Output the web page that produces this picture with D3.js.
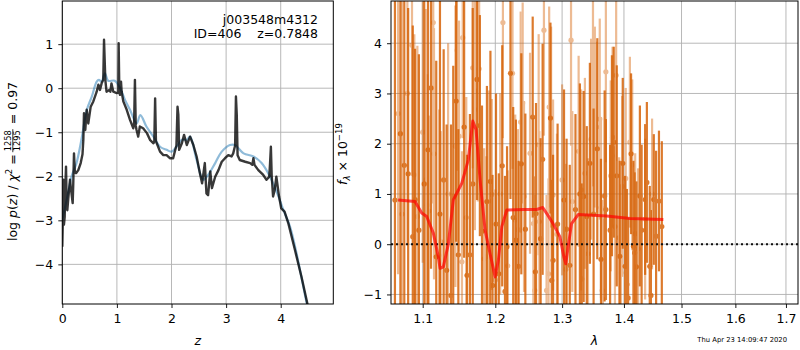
<!DOCTYPE html>
<html>
<head>
<meta charset="utf-8">
<script src="https://cdn.jsdelivr.net/npm/d3@7"></script>
<style>
  body { margin: 0; background: #fff; }
  svg { display: block; font-family: "DejaVu Sans", sans-serif; }
</style>
</head>
<body>
<div id="chart"></div>
<script>
// log p(z) curve, [z, log p]
const pzCurve = [[0.0,-3.6],[0.01,-3.0],[0.02,-2.08],[0.03,-3.1],[0.044,-2.92],[0.055,-2.3],[0.068,-1.78],[0.08,-2.6],[0.092,-2.77],[0.11,-2.5],[0.141,-2.08],[0.16,-2.3],[0.19,-2.61],[0.2,-2.2],[0.214,-1.48],[0.23,-1.9],[0.251,-1.93],[0.293,-1.86],[0.337,-1.70],[0.37,-1.5],[0.385,-1.18],[0.397,-0.57],[0.41,-0.8],[0.421,-0.95],[0.447,-0.49],[0.476,-0.80],[0.52,-0.42],[0.568,-0.30],[0.63,-0.08],[0.66,0.08],[0.69,-0.04],[0.72,0.11],[0.75,0.19],[0.764,1.10],[0.788,0.19],[0.81,-0.08],[0.86,-0.04],[0.88,-0.08],[0.90,0.11],[0.934,-0.08],[0.996,-0.11],[1.025,-0.1],[1.032,1.02],[1.045,-0.1],[1.057,-0.15],[1.075,0.15],[1.087,-0.08],[1.117,-0.30],[1.18,-0.49],[1.24,-0.72],[1.30,-0.91],[1.315,-0.8],[1.33,0.19],[1.345,-0.85],[1.36,-0.95],[1.39,-1.10],[1.42,-0.87],[1.48,-0.91],[1.55,-1.02],[1.61,-1.18],[1.67,-1.25],[1.685,-1.2],[1.70,-0.23],[1.715,-1.2],[1.73,-1.25],[1.79,-1.44],[1.85,-1.52],[1.91,-1.52],[1.97,-1.59],[2.03,-1.59],[2.06,-1.44],[2.09,-1.3],[2.11,-0.42],[2.125,-0.6],[2.14,-1.40],[2.19,-1.25],[2.23,-1.06],[2.28,-1.29],[2.34,-1.10],[2.40,-1.29],[2.46,-1.55],[2.52,-1.93],[2.56,-2.16],[2.61,-1.70],[2.64,-2.39],[2.67,-2.43],[2.71,-1.89],[2.74,-2.27],[2.80,-2.01],[2.86,-1.86],[2.92,-1.67],[2.98,-1.59],[3.04,-1.52],[3.10,-1.55],[3.13,-1.48],[3.165,-1.3],[3.18,-0.19],[3.195,-0.6],[3.21,-1.52],[3.25,-1.63],[3.35,-1.67],[3.44,-1.70],[3.48,-1.74],[3.50,-1.59],[3.52,-1.74],[3.59,-1.86],[3.68,-1.97],[3.74,-2.08],[3.79,-2.01],[3.805,-1.7],[3.82,-1.33],[3.835,-2.0],[3.86,-2.46],[3.89,-2.31],[3.92,-2.01],[3.97,-2.46],[4.01,-2.73],[4.07,-2.80],[4.14,-3.07],[4.26,-3.67],[4.38,-4.28],[4.50,-4.96]];

// smooth template-fit p(z), [z, log p]
const pzTemplate = [[0,-2.99],[0.08,-2.54],[0.17,-2.0],[0.26,-1.70],[0.35,-1.17],[0.45,-0.49],[0.54,-0.19],[0.63,0.15],[0.67,0.19],[0.72,0.15],[0.78,0.34],[0.84,0.17],[0.96,0.17],[1.06,0.0],[1.15,-0.27],[1.24,-0.49],[1.36,-0.80],[1.43,-0.61],[1.54,-0.87],[1.67,-1.10],[1.79,-1.33],[1.91,-1.40],[2.0,-1.44],[2.09,-1.33],[2.19,-1.17],[2.28,-1.17],[2.34,-1.10],[2.46,-1.63],[2.58,-2.08],[2.67,-1.97],[2.80,-1.70],[2.92,-1.44],[3.07,-1.29],[3.16,-1.29],[3.32,-1.48],[3.50,-1.55],[3.65,-1.70],[3.80,-2.0],[3.96,-2.46],[4.05,-2.77],[4.17,-3.14],[4.29,-3.75],[4.47,-4.85],[4.5,-5.0]];

// spectrum, first orientation (dark), [lambda, flux, err]
const specA = [[1.064,0.88,4.6],[1.071,2.20,4.0],[1.076,1.57,3.6],[1.081,1.40,3.3],[1.087,0.15,4.2],[1.090,0.89,3.0],[1.095,0.28,3.5],[1.102,1.20,4.2],[1.107,1.88,3.1],[1.111,3.11,3.6],[1.118,-0.25,3.9],[1.123,0.60,4.5],[1.128,1.28,2.6],[1.132,-0.52,2.9],[1.138,-1.02,3.4],[1.141,0.95,2.6],[1.145,2.85,2.8],[1.148,-0.21,2.5],[1.156,2.33,2.6],[1.160,-0.62,2.4],[1.164,-0.21,2.8],[1.168,1.20,3.5],[1.174,3.28,2.4],[1.178,2.36,2.2],[1.181,0.26,2.5],[1.188,0.85,2.3],[1.193,1.25,2.6],[1.196,-0.82,2.2],[1.201,0.40,2.6],[1.205,-0.59,2.0],[1.210,1.56,2.4],[1.214,-0.94,2.3],[1.217,-0.05,2.0],[1.222,3.40,2.5],[1.226,0.53,2.2],[1.230,0.08,2.4],[1.234,-0.44,2.1],[1.238,1.60,2.2],[1.244,0.30,2.3],[1.255,2.53,2.0],[1.259,-0.55,1.9],[1.260,0.61,2.2],[1.267,0.11,2.0],[1.270,1.69,2.3],[1.282,2.51,1.9],[1.284,-0.72,2.0],[1.286,-0.32,2.1],[1.293,0.40,2.0],[1.303,0.88,2.2],[1.307,0.30,1.8],[1.312,-0.42,2.0],[1.321,0.69,1.9],[1.328,1.00,2.2],[1.331,-0.69,1.9],[1.334,0.95,2.1],[1.339,0.55,1.8],[1.344,1.61,2.0],[1.350,0.60,2.1],[1.356,1.90,2.2],[1.362,-0.30,2.0],[1.368,0.96,2.1],[1.370,0.69,1.8],[1.377,0.28,1.7],[1.380,1.76,2.0],[1.383,2.03,1.9],[1.388,1.36,2.2],[1.393,-0.24,1.9],[1.398,1.61,1.7],[1.402,-0.44,1.8],[1.405,-0.80,1.9],[1.407,-1.07,1.6],[1.412,1.80,1.6],[1.416,-0.04,1.7],[1.418,-0.17,1.6],[1.421,-0.45,1.7],[1.427,0.96,1.8],[1.430,0.28,1.7],[1.436,0.89,1.5],[1.439,1.23,1.6],[1.444,-0.44,1.6],[1.446,-1.02,1.7],[1.451,0.89,1.3],[1.455,0.16,1.7],[1.460,0.86,1.4],[1.465,0.35,1.7]];

// spectrum, second orientation (light), [lambda, flux, err]
const specB = [[1.068,2.60,3.2],[1.073,0.60,4.5],[1.080,3.00,3.0],[1.086,3.96,2.6],[1.089,1.38,2.8],[1.093,0.55,3.4],[1.100,2.23,2.6],[1.104,1.28,3.4],[1.106,0.78,2.6],[1.108,0.66,1.9],[1.114,4.41,3.6],[1.115,1.80,2.5],[1.122,-0.22,2.9],[1.124,0.05,2.2],[1.134,1.00,3.0],[1.144,1.95,2.8],[1.146,3.86,2.4],[1.149,2.15,2.3],[1.153,-0.35,2.2],[1.154,4.11,2.0],[1.159,0.53,2.4],[1.168,3.51,2.0],[1.171,2.68,2.4],[1.175,3.05,2.2],[1.177,3.49,2.1],[1.184,-0.29,2.2],[1.187,-0.25,2.0],[1.191,0.86,2.2],[1.195,0.99,1.9],[1.200,-0.71,1.8],[1.207,1.00,2.0],[1.211,4.41,2.3],[1.218,-0.43,1.9],[1.225,3.40,1.9],[1.229,0.48,2.1],[1.233,0.29,2.0],[1.237,2.43,2.2],[1.240,2.81,2.0],[1.242,0.95,1.9],[1.251,1.81,2.0],[1.256,0.41,2.1],[1.258,-0.92,1.9],[1.264,1.98,2.2],[1.265,0.45,1.8],[1.272,4.26,2.1],[1.276,-0.92,1.9],[1.279,-0.59,1.9],[1.280,2.73,2.0],[1.283,2.33,2.0],[1.286,0.98,1.9],[1.292,0.20,2.0],[1.300,1.28,1.9],[1.306,-0.50,2.1],[1.314,4.06,2.1],[1.316,0.85,1.8],[1.326,1.85,1.9],[1.330,1.08,2.0],[1.336,1.41,1.9],[1.341,-0.19,1.9],[1.346,2.09,2.0],[1.349,3.05,1.9],[1.352,2.53,1.8],[1.355,2.33,1.7],[1.360,2.49,2.0],[1.362,0.73,1.8],[1.364,-0.92,1.8],[1.365,-1.09,1.6],[1.370,3.43,1.8],[1.378,1.36,1.9],[1.381,2.13,1.8],[1.385,0.35,1.6],[1.387,3.36,1.7],[1.392,0.13,1.6],[1.395,-0.57,1.7],[1.397,1.15,1.8],[1.403,1.31,1.8],[1.410,2.03,1.7],[1.414,1.58,1.7],[1.419,0.21,1.6],[1.424,-0.09,1.6],[1.436,0.50,1.6],[1.448,1.00,1.5]];

// best-fit model, [lambda, flux]
const modelCurve = [[1.068,0.88],[1.0899,0.85],[1.0987,0.62],[1.1053,0.55],[1.1141,0.22],[1.1208,-0.25],[1.1231,-0.48],[1.1275,-0.45],[1.1343,0.0],[1.1411,0.88],[1.1527,1.21],[1.1618,1.68],[1.1680,2.45],[1.1726,2.28],[1.1783,1.28],[1.1854,0.28],[1.1925,-0.19],[1.1997,-0.65],[1.2044,-0.32],[1.2094,0.35],[1.2166,0.68],[1.2410,0.69],[1.2611,0.69],[1.2702,0.73],[1.2763,0.61],[1.2860,0.41],[1.2965,0.15],[1.3027,-0.25],[1.3058,-0.39],[1.3094,-0.05],[1.3148,0.41],[1.3253,0.59],[1.3713,0.56],[1.4102,0.51],[1.4677,0.49]];

const zTicks = [0, 1, 2, 3, 4];
const pzTicks = [-4, -3, -2, -1, 0, 1];
const lamTicks = [1.1, 1.2, 1.3, 1.4, 1.5, 1.6, 1.7];
const fluxTicks = [-1, 0, 1, 2, 3, 4];

const W = 800, H = 350, FS = 12.5;
const svg = d3.select('#chart').append('svg').attr('width', W).attr('height', H);

const L = {x0: 62.3, x1: 333.3, y0: 1, y1: 304};
const R = {x0: 391, x1: 798, y0: 1, y1: 304};

const xz = d3.scaleLinear().domain([0, 4.963]).range([L.x0, L.x1]);
const yp = d3.scaleLinear().domain([-4.9, 1.98]).range([L.y1, L.y0]);
const xl = d3.scaleLog().domain([1.059, 1.7247]).range([R.x0, R.x1]);
const yf = d3.scaleLinear().domain([-1.19, 4.84]).range([R.y1, R.y0]);

const defs = svg.append('defs');
defs.append('clipPath').attr('id', 'clipL').append('rect')
    .attr('x', L.x0).attr('y', L.y0).attr('width', L.x1 - L.x0).attr('height', L.y1 - L.y0);
defs.append('clipPath').attr('id', 'clipR').append('rect')
    .attr('x', R.x0).attr('y', R.y0).attr('width', R.x1 - R.x0).attr('height', R.y1 - R.y0);

function grid(box, xs, ys, xv, yv) {
    const g = svg.append('g').attr('stroke', '#b0b0b0').attr('stroke-width', 0.9);
    g.selectAll('.gx').data(xv).enter().append('line')
        .attr('x1', d => xs(d)).attr('x2', d => xs(d))
        .attr('y1', box.y0).attr('y2', box.y1);
    g.selectAll('.gy').data(yv).enter().append('line')
        .attr('x1', box.x0).attr('x2', box.x1)
        .attr('y1', d => ys(d)).attr('y2', d => ys(d));
}
grid(L, xz, yp, zTicks, pzTicks);
grid(R, xl, yf, lamTicks, fluxTicks);

// ---- left panel: p(z)
const gl = svg.append('g').attr('clip-path', 'url(#clipL)');
gl.append('path').datum(pzTemplate)
    .attr('d', d3.line().x(d => xz(d[0])).y(d => yp(d[1])).curve(d3.curveCatmullRom))
    .attr('fill', 'none').attr('stroke', '#1f77b4').attr('stroke-opacity', 0.5).attr('stroke-width', 2.2);
gl.append('path').datum(pzCurve)
    .attr('d', d3.line().x(d => xz(d[0])).y(d => yp(d[1])))
    .attr('fill', 'none').attr('stroke', '#000').attr('stroke-opacity', 0.78).attr('stroke-width', 2.4)
    .attr('stroke-linejoin', 'round');

// ---- right panel: spectrum
const gr = svg.append('g').attr('clip-path', 'url(#clipR)');
function spec(data, op) {
    const g = gr.append('g').attr('opacity', op);
    g.selectAll('line').data(data).enter().append('line')
        .attr('x1', d => xl(d[0])).attr('x2', d => xl(d[0]))
        .attr('y1', d => yf(d[1] - d[2])).attr('y2', d => yf(d[1] + d[2]))
        .attr('stroke', '#d55e00').attr('stroke-width', 2.2);
    g.selectAll('circle').data(data).enter().append('circle')
        .attr('cx', d => xl(d[0])).attr('cy', d => yf(d[1])).attr('r', 2.6)
        .attr('fill', '#d55e00');
}
spec(specB, 0.42);
spec(specA, 0.82);

gr.append('line')
    .attr('x1', R.x0).attr('x2', R.x1).attr('y1', yf(0)).attr('y2', yf(0))
    .attr('stroke', '#111').attr('stroke-width', 2).attr('stroke-dasharray', '2,3');

gr.append('path').datum(modelCurve)
    .attr('d', d3.line().x(d => xl(d[0])).y(d => yf(d[1])))
    .attr('fill', 'none').attr('stroke', 'red').attr('stroke-opacity', 0.7)
    .attr('stroke-width', 3).attr('stroke-linejoin', 'round');

// ---- axes
function styleAxis(g) {
    g.attr('font-size', FS);
    g.selectAll('path').remove();
    g.selectAll('line').attr('stroke', '#000').attr('stroke-width', 0.9);
    g.selectAll('text').attr('font-size', FS).attr('fill', '#000')
        .attr('font-family', '"DejaVu Sans", sans-serif');
}
svg.append('g').attr('transform', `translate(0,${L.y1})`)
    .call(d3.axisBottom(xz).tickValues(zTicks).tickSize(4).tickPadding(6).tickFormat(d3.format('d')))
    .call(styleAxis);
svg.append('g').attr('transform', `translate(${L.x0},0)`)
    .call(d3.axisLeft(yp).tickValues(pzTicks).tickSize(4).tickPadding(5).tickFormat(d3.format('d')))
    .call(styleAxis);
svg.append('g').attr('transform', `translate(0,${R.y1})`)
    .call(d3.axisBottom(xl).tickValues(lamTicks).tickSize(4).tickPadding(6).tickFormat(d3.format('.1f')))
    .call(styleAxis);
svg.append('g').attr('transform', `translate(${R.x0},0)`)
    .call(d3.axisLeft(yf).tickValues(fluxTicks).tickSize(4).tickPadding(5).tickFormat(d3.format('d')))
    .call(styleAxis);

[L, R].forEach(b => {
    svg.append('rect').attr('x', b.x0).attr('y', b.y0)
        .attr('width', b.x1 - b.x0).attr('height', b.y1 - b.y0)
        .attr('fill', 'none').attr('stroke', '#000').attr('stroke-width', 1);
});

// ---- labels
svg.append('text').attr('x', (L.x0 + L.x1) / 2).attr('y', 345)
    .attr('text-anchor', 'middle').attr('font-size', FS).attr('font-style', 'italic').text('z');
svg.append('text').attr('x', (R.x0 + R.x1) / 2).attr('y', 345)
    .attr('text-anchor', 'middle').attr('font-size', FS).attr('font-style', 'italic').text('λ');

svg.append('text').attr('x', 318).attr('y', 24).attr('text-anchor', 'end')
    .attr('font-size', FS).text('j003548m4312');
svg.append('text').attr('x', 318).attr('y', 38).attr('text-anchor', 'end')
    .attr('font-size', FS).attr('xml:space', 'preserve').text('ID=406    z=0.7848');

// left y label with fraction
const yl = svg.append('g').attr('transform', 'translate(17,241) rotate(-90)').attr('font-size', FS);
const t1 = yl.append('text').attr('x', 0).attr('y', 0);
t1.append('tspan').text('log ');
t1.append('tspan').attr('font-style', 'italic').text('p');
t1.append('tspan').text('(');
t1.append('tspan').attr('font-style', 'italic').text('z');
t1.append('tspan').text(') / ');
t1.append('tspan').attr('font-style', 'italic').text('χ');
t1.append('tspan').attr('font-size', 8.6).attr('dy', -5).text('2');
t1.append('tspan').attr('dy', 5).text(' = ');
const w1 = t1.node().getComputedTextLength() + 2;
const fw = 23;
yl.append('text').attr('x', w1 + fw / 2).attr('y', -6).attr('text-anchor', 'middle')
    .attr('font-size', 8.2).text('1258');
yl.append('line').attr('x1', w1).attr('x2', w1 + fw).attr('y1', -4.2).attr('y2', -4.2)
    .attr('stroke', '#000').attr('stroke-width', 0.8);
yl.append('text').attr('x', w1 + fw / 2).attr('y', 2.8).attr('text-anchor', 'middle')
    .attr('font-size', 8.2).text('1295');
yl.append('text').attr('x', w1 + fw + 1).attr('y', 0).attr('xml:space', 'preserve').text(' = 0.97');

// right y label
const yr = svg.append('text').attr('transform', 'translate(347,154) rotate(-90)')
    .attr('text-anchor', 'middle').attr('font-size', FS);
yr.append('tspan').attr('font-style', 'italic').text('f');
yr.append('tspan').attr('font-style', 'italic').attr('font-size', 8.6).attr('dy', 2.5).text('λ');
yr.append('tspan').attr('dy', -2.5).text(' × 10');
yr.append('tspan').attr('font-size', 8.6).attr('dy', -5).text('−19');

// timestamp
svg.append('text').attr('x', 787).attr('y', 342).attr('text-anchor', 'end')
    .attr('font-size', 6.8).text('Thu Apr 23 14:09:47 2020');
</script>
</body>
</html>
